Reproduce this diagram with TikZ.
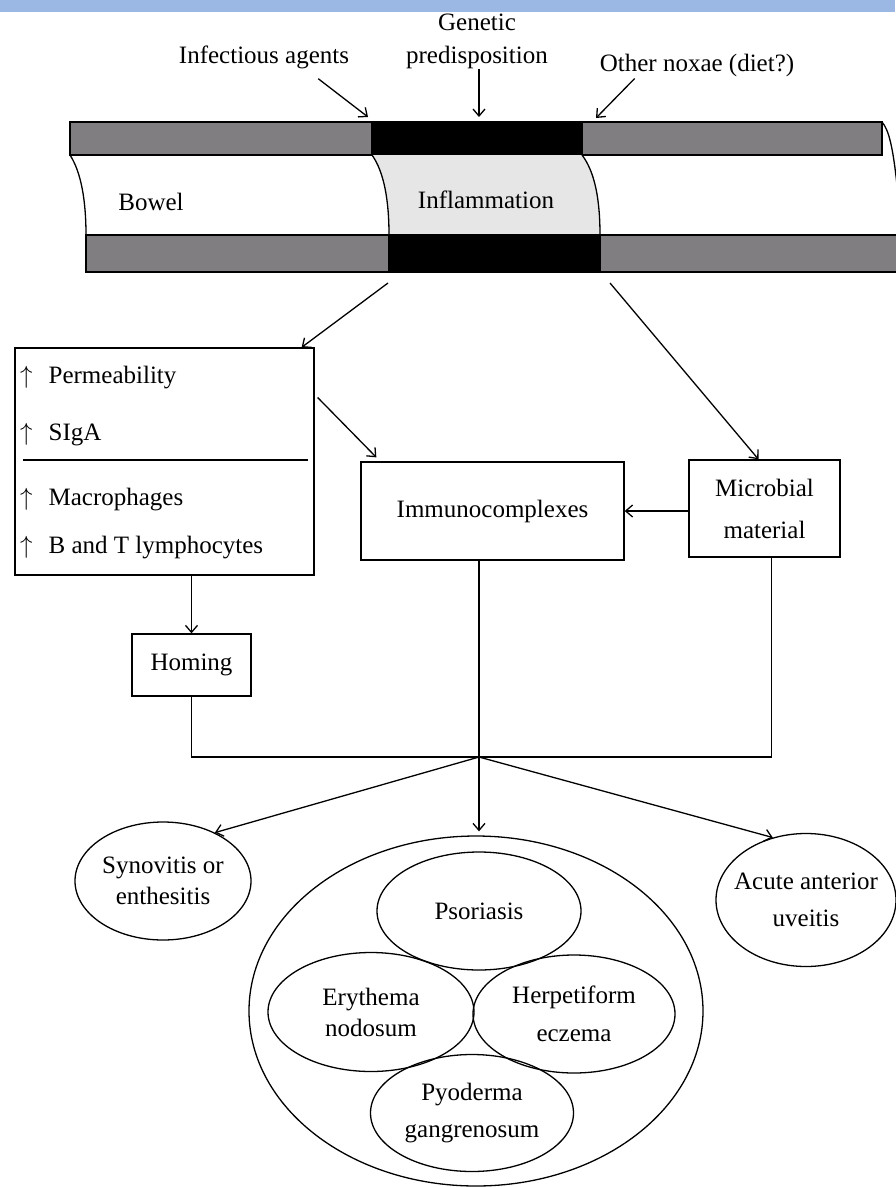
\documentclass[tikz,border=0pt]{standalone}
\usepackage{fontspec}
\setmainfont{Liberation Serif}
\usetikzlibrary{arrows.meta,shapes.geometric}
\definecolor{bandBlue}{RGB}{155,183,228}
\definecolor{wallGray}{RGB}{128,126,128}
\definecolor{inflGray}{RGB}{230,230,230}

\begin{document}
\begin{tikzpicture}[x=1pt, y=-1pt,
    every node/.style={font=\fontsize{25}{31}\selectfont, align=center, inner sep=0pt},
    flowbox/.style={draw, line width=1.3pt, rectangle},
    disease/.style={draw, line width=1.3pt, ellipse},
    link/.style={line width=1.3pt},
    arrowlink/.style={link, -{Straight Barb[length=7pt,width=12pt]}}
]
\path[use as bounding box] (0,0) rectangle (895,1187);
\fill[bandBlue] (0,0) rectangle (895,12);

% bowel tube
\filldraw[fill=wallGray, link] (70,122) rectangle (882,155);
\filldraw[fill=black, link] (372,122) rectangle (582,155);
\draw[link] (882,122) .. controls (889,130) and (893,148) .. (897,185);
\draw[link] (70,155) .. controls (81,172) and (86,200) .. (86,235);
\filldraw[fill=inflGray, link] (372,155) .. controls (384,172) and (389,200) .. (389,235)
    -- (600,235) .. controls (600,200) and (595,172) .. (582,155);
\filldraw[fill=wallGray, link] (86,235) rectangle (899,272);
\filldraw[fill=black, link] (389,235) rectangle (600,272);
\node (bowel) at (151,202) {Bowel};
\node (inflam) at (486,200) {Inflammation};

% causes
\node (infect) at (264,57) {Infectious agents};
\node (genetic) at (477,41) {Genetic\\[2pt]predisposition};
\node (noxae) at (697,65) {Other noxae (diet?)};
\coordinate (hitA) at (368,117);
\coordinate (hitB) at (479,117);
\coordinate (hitC) at (596,118);
\draw[arrowlink] ([xshift=-31pt,yshift=-10pt]infect.south east) -- (hitA);
\draw[arrowlink] (genetic.south -| hitB) -- (hitB);
\draw[arrowlink] ([xshift=35pt,yshift=-2pt]noxae.south west) -- (hitC);

% mechanisms
\coordinate (outL) at (388,283);
\coordinate (outR) at (610,283);
\node[flowbox, minimum width=299pt, minimum height=227pt] (effects) at (164.5,461.5) {};
\node[anchor=west] (perm) at (20,378) {$\uparrow$\hspace{16pt}Permeability};
\node[anchor=west] (siga) at (20,435) {$\uparrow$\hspace{16pt}SIgA};
\node[anchor=west] (macro) at (20,500) {$\uparrow$\hspace{16pt}Macrophages};
\node[anchor=west] (lympho) at (20,548) {$\uparrow$\hspace{16pt}B and T lymphocytes};
\draw[link] (23,460) -- (308,460);
\node[flowbox, minimum width=263pt, minimum height=98pt] (immuno) at (492.5,511) {Immunocomplexes};
\node[flowbox, minimum width=151pt, minimum height=97pt] (microbe) at (764.5,508.5) {Microbial\\[11pt]material};
\node[flowbox, minimum width=119pt, minimum height=62pt] (homing) at (191.5,665) {Homing};
\draw[arrowlink] (outL) -- ([xshift=-13pt]effects.north east);
\draw[arrowlink] (outR) -- ([xshift=-6pt]microbe.north);
\draw[arrowlink] ([xshift=3pt,yshift=64pt]effects.east) -- ([xshift=16pt,yshift=4pt]immuno.north west);
\draw[arrowlink] (microbe.west |- immuno.east) -- (immuno.east);
\draw[arrowlink] (homing.north |- effects.south) -- (homing.north);

% merging lines
\coordinate (junction) at (479,757);
\draw[link] (homing.south) |- (junction) -| ([xshift=7pt]microbe.south);
\draw[link] (junction |- immuno.south) -- (junction);

% manifestations
\node[disease, minimum width=176pt, minimum height=118pt,
    label={center:{Synovitis or\\enthesitis}}] (synov) at (163,881) {};
\node[disease, minimum width=180pt, minimum height=133pt,
    label={center:{Acute anterior\\[6pt]uveitis}}] (acute) at (806,900) {};
\node[disease, minimum width=454pt, minimum height=350pt] (skin) at (476,1011) {};
\node[disease, minimum width=204pt, minimum height=118pt,
    label={center:{Psoriasis}}] (psor) at (479,911) {};
\node[disease, minimum width=206pt, minimum height=119pt,
    label={center:{Erythema\\nodosum}}] (eryth) at (371,1012) {};
\node[disease, minimum width=202pt, minimum height=118pt,
    label={center:{Herpetiform\\[7pt]eczema}}] (herpet) at (574,1014) {};
\node[disease, minimum width=203pt, minimum height=117pt,
    label={center:{Pyoderma\\[6pt]gangrenosum}}] (pyoder) at (472,1113) {};
\draw[arrowlink] (junction) -- (synov.43);
\draw[arrowlink, shorten >=4pt] (junction) -- (junction |- skin.north);
\draw[arrowlink] (junction) -- (acute.118);
\end{tikzpicture}
\end{document}
